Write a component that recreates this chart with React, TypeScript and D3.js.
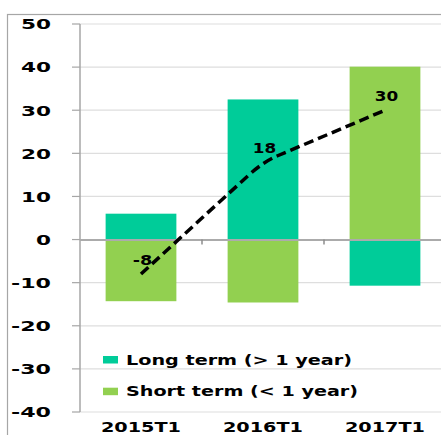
import React from "react";
import * as d3 from "d3";

const categories = ["2015T1", "2016T1", "2017T1"];
const longTerm = [6, 32.5, -10.7];
const shortTerm = [-14.3, -14.6, 40.1];
const total = [-8, 18, 30];
const yTicks = [50, 40, 30, 20, 10, 0, -10, -20, -30, -40];
const legendLabels = ["Long term (> 1 year)", "Short term (< 1 year)"];

const W = 441;
const H = 435;
const LONG_COLOR = "#00cc99";
const SHORT_COLOR = "#92d050";
const FONT = "'DejaVu Sans', Verdana, sans-serif";

// Width helper for the wide bold labels (digits ~15px, minus ~10px)
const numWidth = (s: string) =>
  s.split("").reduce((w, c) => w + (c === "-" ? 10 : 15), 0);

export default function App() {
  const x = d3.scaleBand<string>().domain(categories).range([80, 446]).paddingInner(0.42).paddingOuter(0.21);
  const y = d3.scaleLinear().domain([-40, 50]).range([412, 24]);
  const bw = x.bandwidth();
  const cx = (c: string) => (x(c) as number) + bw / 2;

  const bars = (values: number[], color: string, key: string) =>
    values.map((v, i) => {
      const c = categories[i];
      const y0 = y(Math.max(0, v));
      const y1 = y(Math.min(0, v));
      return <rect key={key + i} x={x(c)} y={y0} width={bw} height={y1 - y0} fill={color} />;
    });

  // Nearly straight segments with a softly rounded joint at the middle point
  const pts = total.map((v, i) => [cx(categories[i]), y(v)] as [number, number]);
  const r = 0.12;
  const a = pts[0], b = pts[1], c2 = pts[2];
  const p1: [number, number] = [b[0] + (a[0] - b[0]) * r, b[1] + (a[1] - b[1]) * r];
  const p2: [number, number] = [b[0] + (c2[0] - b[0]) * r, b[1] + (c2[1] - b[1]) * r];
  const path = d3.path();
  path.moveTo(a[0], a[1]);
  path.lineTo(p1[0], p1[1]);
  path.quadraticCurveTo(b[0], b[1], p2[0], p2[1]);
  path.lineTo(c2[0], c2[1]);

  const step = x.step();

  return (
    <svg
      width={W}
      height={H}
      style={{ position: "absolute", left: 0, top: 0, background: "#fff" }}
      fontFamily={FONT}
      fontWeight="bold"
    >
      <rect x={0} y={0} width={W} height={H} fill="#fff" />
      {/* outer frame */}
      <rect x={7.5} y={14.5} width={W + 20} height={H + 20} fill="none" stroke="#a6a6a6" strokeWidth={1.2} />

      {/* gridlines */}
      {yTicks.filter((t) => t !== 0).map((t) => (
        <line key={"g" + t} x1={80} x2={W} y1={y(t)} y2={y(t)} stroke="#dedede" strokeWidth={1.2} />
      ))}

      {/* bars */}
      {bars(longTerm, LONG_COLOR, "l")}
      {bars(shortTerm, SHORT_COLOR, "s")}

      {/* y axis */}
      <line x1={80} x2={80} y1={y(50)} y2={y(-40)} stroke="#a6a6a6" strokeWidth={1.5} />
      {yTicks.map((t) => (
        <g key={"t" + t}>
          <line x1={72} x2={80} y1={y(t)} y2={y(t)} stroke="#a6a6a6" strokeWidth={1.2} />
          <text
            x={51}
            y={y(t) + 5.3}
            textAnchor="end"
            fontSize={14.5}
            fill="#000"
            textLength={numWidth(String(t))}
            lengthAdjust="spacingAndGlyphs"
          >
            {t}
          </text>
        </g>
      ))}

      {/* zero / category axis */}
      <line x1={80} x2={W} y1={y(0) + 0.5} y2={y(0) + 0.5} stroke="#ababab" strokeWidth={2} />
      {[1, 2].map((k) => (
        <line key={"ct" + k} x1={80 + step * k} x2={80 + step * k} y1={y(0)} y2={y(0) + 5} stroke="#8c8c8c" strokeWidth={1.5} />
      ))}

      {/* total line */}
      <path d={path.toString()} fill="none" stroke="#000" strokeWidth={3.5} strokeDasharray="10 5" />
      {total.map((v, i) => (
        <text
          key={"v" + i}
          x={cx(categories[i]) + 1.5}
          y={y(v) - 9}
          textAnchor="middle"
          fontSize={14}
          fill="#000"
          textLength={numWidth(String(v)) * 0.78}
          lengthAdjust="spacingAndGlyphs"
        >
          {v}
        </text>
      ))}

      {/* legend */}
      {legendLabels.map((lab, i) => (
        <g key={"lg" + i}>
          <rect x={103} y={356 + i * 31.7} width={15} height={7.5} fill={i === 0 ? LONG_COLOR : SHORT_COLOR} />
          <text
            x={126}
            y={365 + i * 30.7}
            fontSize={14.5}
            fill="#000"
            textLength={i === 0 ? 226 : 232}
            lengthAdjust="spacingAndGlyphs"
          >
            {lab}
          </text>
        </g>
      ))}

      {/* category labels */}
      {categories.map((c) => (
        <text
          key={"c" + c}
          x={cx(c)}
          y={432}
          textAnchor="middle"
          fontSize={14}
          fill="#000"
          textLength={80}
          lengthAdjust="spacingAndGlyphs"
        >
          {c}
        </text>
      ))}
    </svg>
  );
}
